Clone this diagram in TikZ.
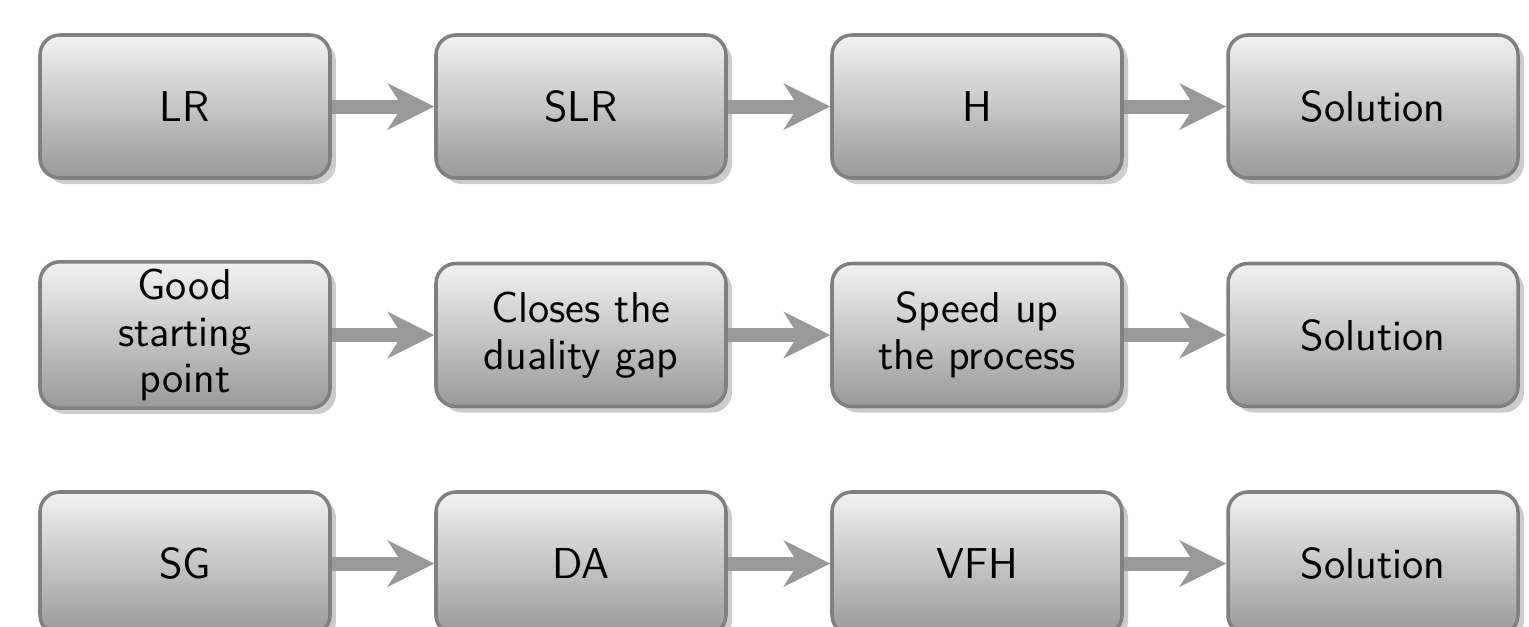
\documentclass[tikz,border=0pt]{standalone}
\usepackage{tikz}
\usetikzlibrary{positioning, arrows.meta, shadows}

\tikzset{
  stage/.style={rectangle, rounded corners=0.2cm, draw=black!50, line width=1pt,
    top color=black!5, bottom color=black!40, minimum width=2.9cm, minimum height=1.43cm,
    align=center, inner sep=2pt, font=\sffamily\fontsize{12.3}{13.3}\selectfont,
    drop shadow={shadow xshift=0.06cm, shadow yshift=-0.06cm, fill=black!40}},
  flow/.style={color=black!40, line width=0.14cm,
    -{Stealth[length=0.47cm, width=0.47cm, inset=0.15cm, line width=0pt]}}
}

\begin{document}
\begin{tikzpicture}[node distance=2.285cm and 3.96cm, on grid]
  \useasboundingbox (-1.85,1.065) rectangle (13.44,-5.195);

  % first row
  \node[stage] (lr) {LR};
  \node[stage] (slr) [right=of lr] {SLR};
  \node[stage] (h) [right=of slr] {H};
  \node[stage] (sola) [right=of h] {Solution};

  % second row
  \node[stage] (good) [below=of lr] {Good\\starting\\point};
  \node[stage] (closes) [right=of good] {Closes the\\duality gap};
  \node[stage] (speed) [right=of closes] {Speed up\\the process};
  \node[stage] (solb) [right=of speed] {Solution};

  % third row
  \node[stage] (sg) [below=of good] {SG};
  \node[stage] (da) [right=of sg] {DA};
  \node[stage] (vfh) [right=of da] {VFH};
  \node[stage] (solc) [right=of vfh] {Solution};

  \path[flow]
  (lr) edge (slr)
    (slr) edge (h)
    (h) edge (sola)
  (good) edge (closes)
    (closes) edge (speed)
    (speed) edge (solb)
  (sg) edge (da)
    (da) edge (vfh)
    (vfh) edge (solc);
\end{tikzpicture}
\end{document}
